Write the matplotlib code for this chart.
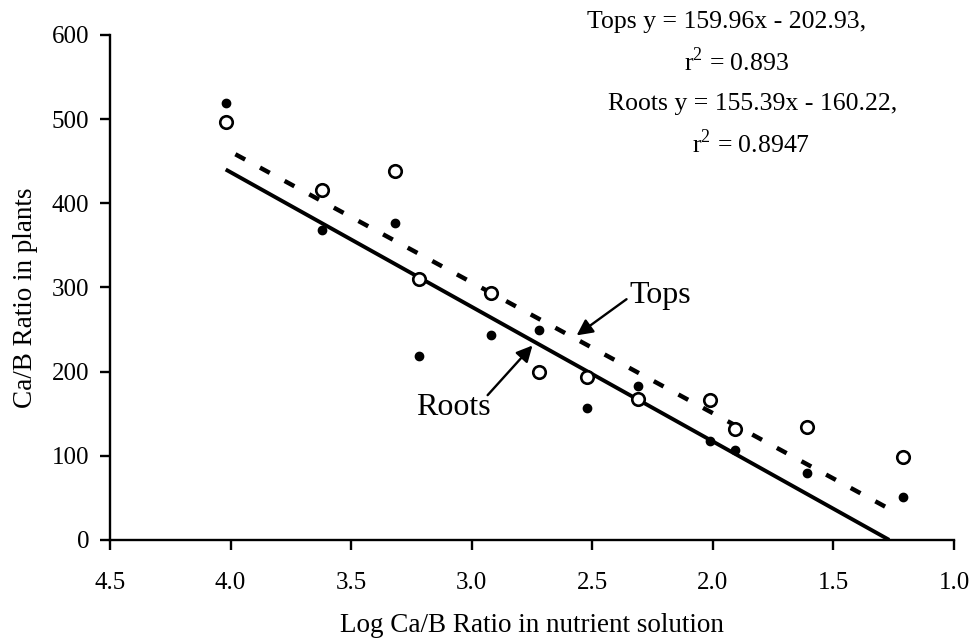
import matplotlib
matplotlib.use("Agg")
import matplotlib.pyplot as plt
import numpy as np

plt.rcParams['font.family'] = ['Liberation Serif', 'DejaVu Serif']
plt.rcParams['mathtext.fontset'] = 'custom'
plt.rcParams['mathtext.rm'] = 'Liberation Serif'

# Data
tops_x = [4.02, 3.62, 3.32, 3.22, 2.92, 2.72, 2.52, 2.31, 2.01, 1.91, 1.61, 1.21]
tops_y = [497, 416, 438, 310, 293, 199, 193, 167, 166, 132, 134, 99]
roots_x = [4.02, 3.62, 3.32, 3.22, 2.92, 2.72, 2.52, 2.31, 2.01, 1.91, 1.61, 1.21]
roots_y = [519, 368, 376, 218, 243, 250, 157, 183, 117, 107, 80, 51]

# Regression equations shown on the chart
solid_coef = (159.96, -202.93)   # solid line
solid_range = (4.02, 1.269)
dashed_coef = (155.39, -160.22)  # dashed line
dashed_range = (3.98, 1.225)

eq_lines = ["Tops y = 159.96x - 202.93,", "r$^{2}$ = 0.893",
            "Roots y = 155.39x - 160.22,", "r$^{2}$ = 0.8947"]

xticks = [4.5, 4.0, 3.5, 3.0, 2.5, 2.0, 1.5, 1.0]
yticks = [0, 100, 200, 300, 400, 500, 600]

fig = plt.figure(figsize=(9.74, 6.42), dpi=100)
ax = fig.add_axes([0.1129, 0.159, 0.8666, 0.7866])

xs = np.array(solid_range)
ax.plot(xs, solid_coef[0] * xs + solid_coef[1], color='black', lw=2.8,
        solid_capstyle='butt')
xd = np.array(dashed_range)
ax.plot(xd, dashed_coef[0] * xd + dashed_coef[1], color='black', lw=3.2,
        dashes=(2.5, 3.8), dash_capstyle='butt')

ax.plot(tops_x, tops_y, linestyle='none', marker='o', markersize=9,
        markerfacecolor='white', markeredgecolor='black', markeredgewidth=1.9,
        zorder=3)
ax.plot(roots_x, roots_y, linestyle='none', marker='o', markersize=6,
        markerfacecolor='black', markeredgecolor='black', zorder=3)

ax.set_xlim(4.5, 1.0)
ax.set_ylim(0, 600)
ax.set_xticks(xticks)
ax.set_xticklabels([f"{v:.1f}" for v in xticks])
ax.set_yticks(yticks)
ax.set_yticklabels([str(v) for v in yticks])

for s in ['top', 'right']:
    ax.spines[s].set_visible(False)
for s in ['left', 'bottom']:
    ax.spines[s].set_linewidth(1.7)
ax.tick_params(axis='both', direction='out', length=7, width=1.7,
               labelsize=18)
ax.tick_params(axis='y', pad=8)
ax.tick_params(axis='x', pad=16)

ax.set_xlabel("Log Ca/B Ratio in nutrient solution", fontsize=19.5, labelpad=14)
ax.set_ylabel("Ca/B Ratio in plants", fontsize=19.5)
ax.yaxis.set_label_coords(-0.0853, 0.48)

# Equation text
eq_pos = [(727, 22), (736, 62), (753, 104), (751, 144)]
for (px, py), t in zip(eq_pos, eq_lines):
    fig.text(px / 974, 1 - py / 642, t, ha='center', va='center', fontsize=18.5)

# Annotations
arrow = dict(arrowstyle='-|>', color='black', lw=1.7, mutation_scale=24,
             shrinkA=0, shrinkB=0)
ax.annotate('', xy=(2.565, 243), xytext=(2.358, 286), arrowprops=arrow)
ax.text(2.348, 290, "Tops", ha='left', va='center', fontsize=23)
ax.annotate('', xy=(2.748, 231), xytext=(2.934, 172), arrowprops=arrow)
ax.text(3.075, 157, "Roots", ha='center', va='center', fontsize=23)

fig.savefig("out.png", dpi=100)
